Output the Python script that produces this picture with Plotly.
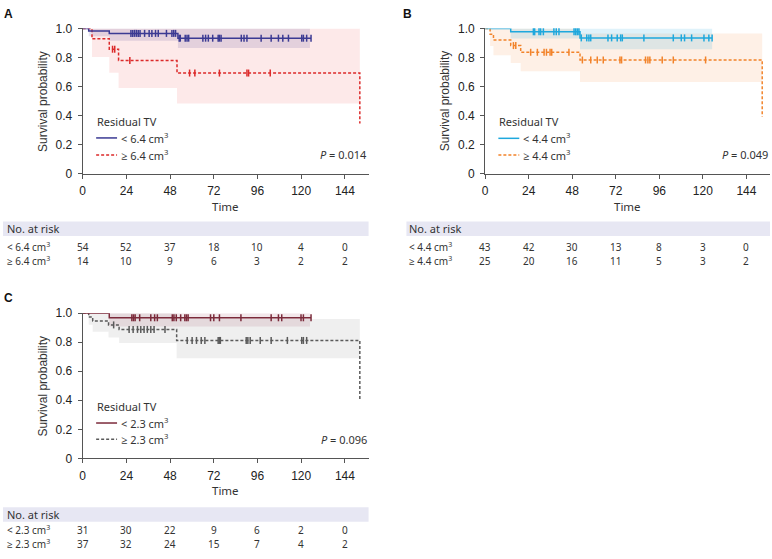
import numpy as np
import plotly.graph_objects as go

W, H = 772, 559

# ---------------- data ----------------
TICKS = [0, 24, 48, 72, 96, 120, 144]
Y_TICKS = [0, 0.2, 0.4, 0.6, 0.8, 1.0]
Y_TICK_TEXT = ["0", "0.2", "0.4", "0.6", "0.8", "1.0"]

# Panel A : residual TV 6.4 cm3
A_lo_t = [0, 3.3, 14.6, 52.3, 125.4]
A_lo_s = [1.0, 0.982, 0.966, 0.933, 0.933]
A_lo_cens = [26.5, 27.5, 28.5, 29.5, 30.5, 31.5, 34, 36.5, 38, 40, 41.5, 46, 49, 50, 51,
             53, 53.6, 56.3, 57.3, 58.2, 66, 67.5, 69, 71.4, 74.4, 75.1, 76, 87.1, 88.6, 90.2,
             98, 103.5, 107.5, 109.9, 113, 120.3, 121.2, 123, 125.4]
A_lo_ci_t = [3.3, 14.6, 52.3, 124.8]
A_lo_ci_lo = [0.947, 0.915, 0.866, 0.866]
A_lo_ci_hi = [1.0, 1.0, 1.0, 1.0]

A_hi_t = [0, 5.1, 14.6, 19.7, 51.8, 152.2]
A_hi_s = [1.0, 0.929, 0.857, 0.779, 0.693, 0.346]
A_hi_cens = [16.4, 17.6, 25.9, 58.7, 61.6, 75.1, 90.2, 91.1, 103.0]
A_hi_ci_t = [5.1, 14.6, 19.7, 51.8, 152.2]
A_hi_ci_lo = [0.803, 0.695, 0.59, 0.484, 0.484]
A_hi_ci_hi = [1.0, 1.0, 1.0, 1.0, 1.0]

A_risk_lo = [54, 52, 37, 18, 10, 4, 0]
A_risk_hi = [14, 10, 9, 6, 3, 2, 2]
A_labels = ["< 6.4 cm<sup>3</sup>", "≥ 6.4 cm<sup>3</sup>"]
A_p = "0.014"

# Panel B : residual TV 4.4 cm3
B_lo_t = [0, 14.1, 52.3, 125.1]
B_lo_s = [1.0, 0.977, 0.935, 0.935]
B_lo_cens = [26.6, 27.3, 29.7, 30.6, 32.1, 37.9, 39.2, 40.7, 49, 49.9, 50.8, 51.7,
             53, 56, 57.2, 58.2, 67.7, 69.7, 72.8, 74.7, 75.6, 87.5, 103.7, 108.1, 109.9,
             113.8, 120.6, 123.3, 125.1]
B_lo_ci_t = [14.1, 52.3, 125.1]
B_lo_ci_lo = [0.93, 0.857, 0.857]
B_lo_ci_hi = [1.0, 1.0, 1.0]

B_hi_t = [0, 2.75, 4.6, 14.1, 19.6, 52.3, 152.7]
B_hi_s = [1.0, 0.96, 0.92, 0.882, 0.836, 0.783, 0.392]
B_hi_cens = [15.6, 16.9, 25.1, 28.8, 32.5, 33.8, 35.8, 36.7, 46.2,
             53.6, 58.2, 61.8, 65.1, 74.3, 75.2, 88.4, 89.7, 90.8, 97.6, 103.7, 121.5]
B_hi_ci_t = [2.75, 4.6, 14.1, 19.6, 52.3, 152.7]
B_hi_ci_lo = [0.88, 0.816, 0.763, 0.705, 0.632, 0.632]
B_hi_ci_hi = [1.0, 1.0, 1.0, 1.0, 0.966, 0.966]

B_risk_lo = [43, 42, 30, 13, 8, 3, 0]
B_risk_hi = [25, 20, 16, 11, 5, 3, 2]
B_labels = ["< 4.4 cm<sup>3</sup>", "≥ 4.4 cm<sup>3</sup>"]
B_p = "0.049"

# Panel C : residual TV 2.3 cm3
C_lo_t = [0, 14.6, 125.4]
C_lo_s = [1.0, 0.968, 0.968]
C_lo_cens = [27, 27.9, 28.8, 31.3, 37.4, 39.5, 41, 49.2, 50.1, 51.4, 53.8, 56.1, 57, 57.9,
             70.2, 72, 75.1, 86.9, 103.5, 107.5, 109.3, 119.9, 121.2, 125.4]
C_lo_ci_t = [14.6, 124.8]
C_lo_ci_lo = [0.908, 0.908]
C_lo_ci_hi = [1.0, 1.0]

C_hi_t = [0, 3.3, 5.5, 14.2, 20, 51.6, 152.2]
C_hi_s = [1.0, 0.973, 0.946, 0.919, 0.888, 0.812, 0.406]
C_hi_cens = [17, 25.5, 27.7, 30.1, 31.9, 33.7, 35.5, 37.4, 39.2, 45.2,
             57.4, 60.1, 62.5, 65.1, 67.1, 74.4, 75.1, 75.6, 89.8, 90.7, 92, 97.5, 103.5,
             112.4, 120.3, 121.2, 123]
C_hi_ci_t = [3.3, 5.5, 14.2, 20, 51.6, 152.2]
C_hi_ci_lo = [0.92, 0.872, 0.832, 0.794, 0.689, 0.689]
C_hi_ci_hi = [1.0, 1.0, 1.0, 1.0, 0.96, 0.96]

C_risk_lo = [31, 30, 22, 9, 6, 2, 0]
C_risk_hi = [37, 32, 24, 15, 7, 4, 2]
C_labels = ["< 2.3 cm<sup>3</sup>", "≥ 2.3 cm<sup>3</sup>"]
C_p = "0.096"

# ---------------- styling ----------------
TICK_FONT = "Liberation Sans, Arial, sans-serif"
TEXT_FONT = "Noto Sans, Open Sans, sans-serif"
AXIS_COL = "#555555"


def px(xp):
    return xp / W


def py(yp):
    return 1 - yp / H


panels = [
    dict(key="A", xa="x", ya="y", xd=(80, 367), yd=(22, 171), label_xy=(6, 7),
         lo=(A_lo_t, A_lo_s, A_lo_cens, A_lo_ci_t, A_lo_ci_lo, A_lo_ci_hi),
         hi=(A_hi_t, A_hi_s, A_hi_cens, A_hi_ci_t, A_hi_ci_lo, A_hi_ci_hi),
         risk=(A_risk_lo, A_risk_hi), labels=A_labels, p=A_p,
         col_lo="#3b3a93", col_hi="#dc2a2a",
         fill_lo="rgba(70,55,140,0.14)", fill_hi="rgba(240,110,110,0.15)",
         ytitle_x=40, time_y=205, band=(0, 367, 220, 235), rows=(246.5, 261),
         leg=(93.5, 117.5, 134.3, 151.7), lab_x=2),
    dict(key="B", xa="x2", ya="y2", xd=(484, 770), yd=(22, 171), label_xy=(406, 7),
         lo=(B_lo_t, B_lo_s, B_lo_cens, B_lo_ci_t, B_lo_ci_lo, B_lo_ci_hi),
         hi=(B_hi_t, B_hi_s, B_hi_cens, B_hi_ci_t, B_hi_ci_lo, B_hi_ci_hi),
         risk=(B_risk_lo, B_risk_hi), labels=B_labels, p=B_p,
         col_lo="#1ea8dd", col_hi="#f2832a",
         fill_lo="rgba(40,170,220,0.15)", fill_hi="rgba(245,150,80,0.14)",
         ytitle_x=444, time_y=205, band=(405, 770, 220, 235), rows=(246.5, 261),
         leg=(497.3, 117.5, 134.7, 151.7), lab_x=406),
    dict(key="C", xa="x3", ya="y3", xd=(80, 367), yd=(314, 463), label_xy=(6, 298),
         lo=(C_lo_t, C_lo_s, C_lo_cens, C_lo_ci_t, C_lo_ci_lo, C_lo_ci_hi),
         hi=(C_hi_t, C_hi_s, C_hi_cens, C_hi_ci_t, C_hi_ci_lo, C_hi_ci_hi),
         risk=(C_risk_lo, C_risk_hi), labels=C_labels, p=C_p,
         col_lo="#7b2a3a", col_hi="#5a5a5a",
         fill_lo="rgba(150,60,85,0.12)", fill_hi="rgba(150,150,150,0.15)",
         ytitle_x=40, time_y=496, band=(0, 367, 513, 528), rows=(536.5, 550.5),
         leg=(93.5, 410, 426.7, 443.3), lab_x=2),
]

fig = go.Figure()
annotations = []
shapes = []
layout_axes = {}

for i, P in enumerate(panels):
    xa, ya = P["xa"], P["ya"]
    # CI bands (dashed group first, then solid group)
    for grp, fill in ((P["hi"], P["fill_hi"]), (P["lo"], P["fill_lo"])):
        t, s, cens, ct, clo, chi = grp
        fig.add_trace(go.Scatter(x=ct, y=chi, mode="lines", line=dict(width=0, shape="hv"),
                                 xaxis=xa, yaxis=ya, showlegend=False, hoverinfo="skip"))
        fig.add_trace(go.Scatter(x=ct, y=clo, mode="lines", line=dict(width=0, shape="hv"),
                                 fill="tonexty", fillcolor=fill,
                                 xaxis=xa, yaxis=ya, showlegend=False, hoverinfo="skip"))
    # survival curves
    for grp, col, dash in ((P["hi"], P["col_hi"], "3px,2px"), (P["lo"], P["col_lo"], "solid")):
        t, s, cens, ct, clo, chi = grp
        fig.add_trace(go.Scatter(x=t, y=s, mode="lines",
                                 line=dict(color=col, width=1.5, shape="hv", dash=dash),
                                 xaxis=xa, yaxis=ya, showlegend=False))
        ta = np.asarray(t)
        sa = np.asarray(s)
        ca = np.asarray(cens)
        idx = np.searchsorted(ta, ca, side="right") - 1
        fig.add_trace(go.Scatter(x=ca, y=sa[idx], mode="markers",
                                 marker=dict(symbol="line-ns", size=5,
                                             line=dict(color=col, width=1.5)),
                                 xaxis=xa, yaxis=ya, showlegend=False, cliponaxis=False))

    suffix = "" if i == 0 else str(i + 1)
    layout_axes["xaxis" + suffix] = dict(
        domain=[px(P["xd"][0]), px(P["xd"][1])], range=[0, 157], anchor=ya,
        tickvals=TICKS, ticks="outside", ticklen=4, tickcolor=AXIS_COL, tickwidth=1,
        showline=True, linecolor=AXIS_COL, linewidth=1, showgrid=False, zeroline=False,
        tickfont=dict(family=TICK_FONT, size=12, color="#222"), ticklabelstandoff=2)
    layout_axes["yaxis" + suffix] = dict(
        domain=[py(P["yd"][1]), py(P["yd"][0])], range=[0, 1.0], anchor=xa,
        tickvals=Y_TICKS, ticktext=Y_TICK_TEXT, ticks="outside", ticklen=4,
        tickcolor=AXIS_COL, tickwidth=1, showline=True, linecolor=AXIS_COL, linewidth=1,
        showgrid=False, zeroline=False,
        tickfont=dict(family=TICK_FONT, size=12, color="#222"), ticklabelstandoff=3)

    # panel letter
    annotations.append(dict(text="<b>%s</b>" % P["key"], x=px(P["label_xy"][0]),
                            y=py(P["label_xy"][1]), xref="paper", yref="paper",
                            showarrow=False, xanchor="center", yanchor="middle",
                            font=dict(family=TICK_FONT, size=12, color="#111")))
    # y title
    annotations.append(dict(text="Survival probability", x=px(P["ytitle_x"]),
                            y=py((P["yd"][0] + P["yd"][1]) / 2), xref="paper", yref="paper",
                            showarrow=False, textangle=-90, xanchor="center", yanchor="middle",
                            font=dict(family=TICK_FONT, size=12, color="#333")))
    # x title
    annotations.append(dict(text="Time", x=px((P["xd"][0] + P["xd"][1]) / 2),
                            y=py(P["time_y"]), xref="paper", yref="paper", showarrow=False,
                            xanchor="center", yanchor="middle",
                            font=dict(family=TEXT_FONT, size=11.5, color="#333")))
    # p-value
    annotations.append(dict(text="<i>P</i> = %s" % P["p"], x=px(P["xd"][1]),
                            y=py(P["leg"][3]), xref="paper", yref="paper", showarrow=False,
                            xanchor="right", yanchor="middle",
                            font=dict(family=TEXT_FONT, size=11, color="#333")))
    # legend (manual)
    lx, ly0, ly1, ly2 = P["leg"]
    annotations.append(dict(text="Residual TV", x=px(lx - 1), y=py(ly0), xref="paper",
                            yref="paper", showarrow=False, xanchor="left", yanchor="middle",
                            font=dict(family=TEXT_FONT, size=11, color="#333")))
    for lyy, col, dash, lab in ((ly1, P["col_lo"], "solid", P["labels"][0]),
                                (ly2, P["col_hi"], "3px,2px", P["labels"][1])):
        shapes.append(dict(type="line", xref="paper", yref="paper", x0=px(lx), x1=px(lx + 21),
                           y0=py(lyy), y1=py(lyy), line=dict(color=col, width=1.5, dash=dash)))
        annotations.append(dict(text=lab, x=px(lx + 23), y=py(lyy), xref="paper",
                                yref="paper", showarrow=False, xanchor="left",
                                yanchor="middle",
                                font=dict(family=TEXT_FONT, size=11, color="#333")))
    # risk table
    bx0, bx1, by0, by1 = P["band"]
    shapes.append(dict(type="rect", xref="paper", yref="paper", x0=px(bx0), x1=px(bx1),
                       y0=py(by1), y1=py(by0), fillcolor="#e7e7f3", line=dict(width=0),
                       layer="below"))
    annotations.append(dict(text="No. at risk", x=px(P["lab_x"]), y=py((by0 + by1) / 2),
                            xref="paper", yref="paper", showarrow=False, xanchor="left",
                            yanchor="middle",
                            font=dict(family=TEXT_FONT, size=11, color="#333")))
    for row_y, lab, vals in ((P["rows"][0], P["labels"][0], P["risk"][0]),
                             (P["rows"][1], P["labels"][1], P["risk"][1])):
        annotations.append(dict(text=lab, x=px(P["lab_x"]), y=py(row_y), xref="paper",
                                yref="paper", showarrow=False, xanchor="left",
                                yanchor="middle",
                                font=dict(family=TEXT_FONT, size=10, color="#333")))
        for tv, v in zip(TICKS, vals):
            annotations.append(dict(text=str(v), x=tv, y=py(row_y), xref=xa, yref="paper",
                                    showarrow=False, xanchor="center", yanchor="middle",
                                    font=dict(family=TEXT_FONT, size=10, color="#333")))

fig.update_layout(
    width=W, height=H, margin=dict(l=0, r=0, t=0, b=0),
    paper_bgcolor="white", plot_bgcolor="white", showlegend=False,
    annotations=annotations, shapes=shapes, **layout_axes)

fig.write_html("out.html", config={"displayModeBar": False},
               post_script="document.body.style.margin='0';document.body.style.padding='0';")
